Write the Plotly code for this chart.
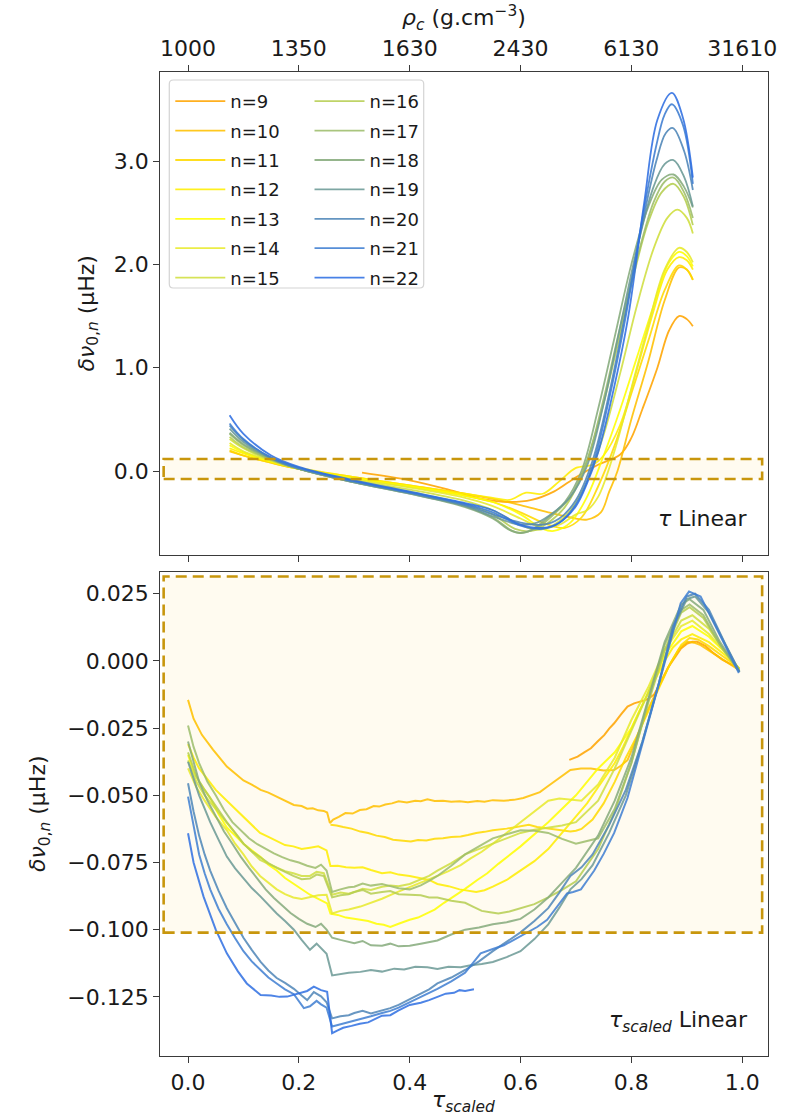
import plotly.graph_objects as go

# ---------------------------------------------------------------------------
# Radial orders and their line colours
# ---------------------------------------------------------------------------
ORDERS = [9, 10, 11, 12, 13, 14, 15, 16, 17, 18, 19, 20, 21, 22]
COLORS = ["#ffa500", "#ffc000", "#ffda00", "#ffee00", "#ffff00", "#e8ea2c",
          "#d0df40", "#b6ce52", "#9dbd6c", "#86ab7c", "#6c9a96", "#4f86b8",
          "#3f7ed2", "#2f6fe2"]

# Top axis: central density at evenly spaced tau positions
RHO_TICK_POS = [0.0, 0.2, 0.4, 0.6, 0.8, 1.0]
RHO_TICK_TEXT = ["1000", "1350", "1630", "2430", "6130", "31610"]

# ---------------------------------------------------------------------------
# Upper panel: delta nu_{0,n} (muHz) against tau (linear), (tau, dnu) pairs
# ---------------------------------------------------------------------------
top_n9 = [(0.314, -0.016), (0.40, -0.09), (0.47, -0.18), (0.53, -0.27), (0.58, -0.30),
          (0.62, -0.28), (0.66, -0.20), (0.70, -0.06), (0.74, 0.06), (0.78, 0.16),
          (0.80, 0.32), (0.82, 0.60), (0.847, 1.00), (0.868, 1.36), (0.886, 1.50),
          (0.90, 1.47), (0.911, 1.40)]
top_n10 = [(0.075, 0.19), (0.10, 0.15), (0.15, 0.08), (0.20, 0.02), (0.30, -0.06),
           (0.40, -0.14), (0.50, -0.22), (0.55, -0.27), (0.60, -0.33), (0.65, -0.40),
           (0.70, -0.46), (0.72, -0.47), (0.745, -0.40), (0.76, -0.20), (0.775, 0.0),
           (0.80, 0.50), (0.83, 1.05), (0.86, 1.65), (0.886, 1.97), (0.90, 1.95),
           (0.911, 1.85)]
top_n11 = [(0.075, 0.20), (0.10, 0.15), (0.15, 0.08), (0.20, 0.02), (0.30, -0.07),
           (0.40, -0.15), (0.50, -0.24), (0.55, -0.30), (0.60, -0.40), (0.65, -0.52),
           (0.68, -0.55), (0.71, -0.45), (0.74, -0.15), (0.77, 0.25), (0.80, 0.75),
           (0.83, 1.25), (0.86, 1.75), (0.886, 1.99), (0.90, 1.95), (0.911, 1.85)]
top_n12 = [(0.075, 0.22), (0.10, 0.17), (0.15, 0.09), (0.20, 0.03), (0.30, -0.06),
           (0.40, -0.14), (0.50, -0.22), (0.55, -0.26), (0.58, -0.28), (0.61, -0.21),
           (0.64, -0.22), (0.67, -0.10), (0.70, 0.03), (0.73, 0.06), (0.75, 0.15),
           (0.78, 0.45), (0.81, 0.98), (0.84, 1.55), (0.865, 1.95), (0.886, 2.07),
           (0.90, 2.04), (0.911, 1.95)]
top_n13 = [(0.075, 0.25), (0.10, 0.18), (0.15, 0.09), (0.20, 0.02), (0.30, -0.07),
           (0.40, -0.15), (0.50, -0.24), (0.55, -0.30), (0.60, -0.42), (0.64, -0.56),
           (0.66, -0.58), (0.69, -0.50), (0.72, -0.25), (0.75, 0.15), (0.78, 0.60),
           (0.81, 1.10), (0.84, 1.60), (0.866, 2.00), (0.886, 2.12), (0.90, 2.08),
           (0.911, 1.98)]
top_n14 = [(0.075, 0.27), (0.10, 0.19), (0.15, 0.10), (0.20, 0.02), (0.30, -0.08),
           (0.40, -0.16), (0.50, -0.26), (0.55, -0.34), (0.60, -0.46), (0.64, -0.55),
           (0.67, -0.52), (0.70, -0.42), (0.72, -0.38), (0.74, -0.25), (0.77, 0.20),
           (0.80, 0.80), (0.83, 1.40), (0.86, 1.95), (0.886, 2.16), (0.90, 2.12),
           (0.911, 2.02)]
top_n15 = [(0.075, 0.31), (0.10, 0.22), (0.15, 0.10), (0.20, 0.02), (0.30, -0.09),
           (0.40, -0.18), (0.50, -0.29), (0.55, -0.38), (0.60, -0.52), (0.63, -0.57),
           (0.66, -0.52), (0.69, -0.38), (0.72, -0.10), (0.75, 0.35), (0.78, 0.95),
           (0.81, 1.60), (0.84, 2.15), (0.865, 2.45), (0.883, 2.53), (0.90, 2.45),
           (0.911, 2.30)]
top_n16 = [(0.075, 0.33), (0.10, 0.23), (0.15, 0.11), (0.20, 0.02), (0.30, -0.10),
           (0.40, -0.20), (0.50, -0.32), (0.55, -0.42), (0.59, -0.56), (0.62, -0.58),
           (0.65, -0.50), (0.68, -0.35), (0.71, -0.05), (0.74, 0.45), (0.77, 1.10),
           (0.80, 1.80), (0.83, 2.40), (0.855, 2.70), (0.876, 2.78), (0.895, 2.65),
           (0.911, 2.38)]
top_n17 = [(0.075, 0.36), (0.10, 0.25), (0.15, 0.11), (0.20, 0.02), (0.30, -0.11),
           (0.40, -0.21), (0.50, -0.34), (0.55, -0.45), (0.585, -0.58), (0.60, -0.60),
           (0.63, -0.55), (0.66, -0.42), (0.69, -0.25), (0.72, 0.10), (0.75, 0.70),
           (0.78, 1.40), (0.81, 2.05), (0.84, 2.60), (0.86, 2.80), (0.876, 2.84),
           (0.895, 2.70), (0.911, 2.45)]
top_n18 = [(0.075, 0.37), (0.10, 0.26), (0.15, 0.12), (0.20, 0.02), (0.30, -0.11),
           (0.40, -0.22), (0.50, -0.35), (0.55, -0.46), (0.58, -0.57), (0.60, -0.60),
           (0.62, -0.57), (0.65, -0.45), (0.68, -0.30), (0.71, 0.00), (0.74, 0.60),
           (0.77, 1.30), (0.80, 2.00), (0.83, 2.55), (0.855, 2.82), (0.876, 2.87),
           (0.895, 2.75), (0.911, 2.55)]
top_n19 = [(0.075, 0.41), (0.10, 0.28), (0.15, 0.12), (0.20, 0.02), (0.30, -0.11),
           (0.40, -0.22), (0.50, -0.34), (0.55, -0.44), (0.60, -0.52), (0.63, -0.50),
           (0.66, -0.40), (0.69, -0.25), (0.72, 0.05), (0.75, 0.65), (0.78, 1.40),
           (0.81, 2.15), (0.84, 2.75), (0.86, 2.97), (0.876, 3.01), (0.895, 2.85),
           (0.911, 2.56)]
top_n20 = [(0.075, 0.44), (0.10, 0.30), (0.15, 0.13), (0.20, 0.03), (0.30, -0.10),
           (0.40, -0.21), (0.50, -0.33), (0.55, -0.42), (0.60, -0.50), (0.64, -0.52),
           (0.67, -0.46), (0.70, -0.28), (0.73, 0.10), (0.76, 0.75), (0.79, 1.55),
           (0.82, 2.40), (0.845, 3.00), (0.862, 3.27), (0.875, 3.32), (0.895, 3.10),
           (0.911, 2.72)]
top_n21 = [(0.075, 0.46), (0.10, 0.31), (0.15, 0.13), (0.20, 0.03), (0.30, -0.10),
           (0.40, -0.21), (0.50, -0.32), (0.55, -0.40), (0.60, -0.53), (0.64, -0.56),
           (0.67, -0.50), (0.70, -0.32), (0.73, 0.05), (0.76, 0.70), (0.79, 1.50),
           (0.82, 2.45), (0.845, 3.15), (0.86, 3.45), (0.873, 3.55), (0.893, 3.35),
           (0.911, 2.78)]
top_n22 = [(0.075, 0.54), (0.10, 0.36), (0.15, 0.15), (0.20, 0.04), (0.30, -0.09),
           (0.40, -0.20), (0.50, -0.31), (0.55, -0.38), (0.60, -0.52), (0.64, -0.55),
           (0.67, -0.50), (0.70, -0.34), (0.72, -0.12), (0.74, 0.18), (0.76, 0.60),
           (0.793, 1.45), (0.823, 2.59), (0.847, 3.40), (0.873, 3.66), (0.893, 3.42),
           (0.911, 2.84)]

# ---------------------------------------------------------------------------
# Lower panel: delta nu_{0,n} (muHz) against scaled tau, (tau_s, dnu) pairs
# ---------------------------------------------------------------------------
bot_n9 = [(0.688, -0.0368), (0.697, -0.0362), (0.703, -0.0356), (0.715, -0.0340),
          (0.727, -0.0325), (0.739, -0.0300), (0.751, -0.0276), (0.760, -0.0252),
          (0.769, -0.0232), (0.781, -0.0200), (0.793, -0.0170), (0.805, -0.0158),
          (0.817, -0.0151), (0.829, -0.0143), (0.841, -0.0125), (0.856, -0.0070),
          (0.866, -0.0025), (0.877, 0.0010), (0.889, 0.0045), (0.901, 0.0065),
          (0.910, 0.0071), (0.919, 0.0071), (0.934, 0.0055), (0.949, 0.0028),
          (0.964, 0.0005), (0.979, -0.0012), (0.994, -0.0027)]
bot_n10 = [(0.0, -0.0145), (0.01, -0.0215), (0.025, -0.0275), (0.045, -0.0330),
           (0.070, -0.0393), (0.085, -0.0418), (0.10, -0.0445), (0.115, -0.0460),
           (0.131, -0.0480), (0.145, -0.0490), (0.16, -0.0505), (0.175, -0.0518),
           (0.191, -0.0536), (0.205, -0.0540), (0.215, -0.0550), (0.225, -0.0548),
           (0.235, -0.0556), (0.245, -0.0558), (0.251, -0.0564), (0.256, -0.0603),
           (0.262, -0.0590), (0.272, -0.0580), (0.284, -0.0566), (0.297, -0.0568),
           (0.31, -0.0555), (0.322, -0.0552), (0.335, -0.0540), (0.345, -0.0542),
           (0.356, -0.0534), (0.368, -0.0530), (0.38, -0.0522), (0.395, -0.0527),
           (0.41, -0.0520), (0.42, -0.0522), (0.432, -0.0515), (0.445, -0.0521),
           (0.46, -0.0520), (0.475, -0.0524), (0.49, -0.0522), (0.505, -0.0526),
           (0.522, -0.0521), (0.535, -0.0524), (0.55, -0.0518), (0.57, -0.0520),
           (0.588, -0.0517), (0.605, -0.0510), (0.62, -0.0500), (0.635, -0.0488),
           (0.648, -0.0468), (0.670, -0.0435), (0.690, -0.0406), (0.709, -0.0400),
           (0.727, -0.0400), (0.750, -0.0408), (0.769, -0.0406), (0.781, -0.0390),
           (0.793, -0.0369), (0.805, -0.0310), (0.817, -0.0245), (0.829, -0.0185),
           (0.841, -0.0133), (0.856, -0.0065), (0.871, -0.0008), (0.886, 0.0045),
           (0.901, 0.0071), (0.913, 0.0068), (0.925, 0.0059), (0.943, 0.0035),
           (0.961, 0.0010), (0.978, -0.0012), (0.994, -0.0033)]
bot_n11 = [(0.257, -0.0610), (0.268, -0.0612), (0.28, -0.0618), (0.295, -0.0624),
           (0.311, -0.0635), (0.325, -0.0640), (0.34, -0.0650), (0.355, -0.0655),
           (0.37, -0.0665), (0.385, -0.0668), (0.402, -0.0672), (0.415, -0.0666),
           (0.43, -0.0668), (0.445, -0.0662), (0.46, -0.0660), (0.475, -0.0655),
           (0.492, -0.0653), (0.505, -0.0648), (0.52, -0.0640), (0.535, -0.0636),
           (0.55, -0.0630), (0.575, -0.0624), (0.60, -0.0616), (0.615, -0.0610),
           (0.63, -0.0618), (0.645, -0.0622), (0.66, -0.0625), (0.675, -0.0630),
           (0.69, -0.0635), (0.70, -0.0632), (0.71, -0.0625), (0.73, -0.0590),
           (0.75, -0.0530), (0.77, -0.0450), (0.79, -0.0360), (0.81, -0.0280),
           (0.83, -0.0190), (0.85, -0.0100), (0.87, -0.0010), (0.89, 0.0060),
           (0.905, 0.0085), (0.92, 0.0080), (0.94, 0.0055), (0.96, 0.0025),
           (0.98, -0.0005), (0.994, -0.0030)]
bot_n12 = [(0.0, -0.031), (0.01, -0.036), (0.02, -0.040), (0.035, -0.044), (0.05, -0.048),
           (0.07, -0.052), (0.085, -0.055), (0.10, -0.058), (0.115, -0.061), (0.13, -0.064),
           (0.145, -0.0655), (0.16, -0.067), (0.175, -0.0685), (0.19, -0.069),
           (0.205, -0.0700), (0.22, -0.0695), (0.235, -0.0690), (0.25, -0.0705),
           (0.257, -0.0763), (0.27, -0.0762), (0.285, -0.0768), (0.30, -0.0770),
           (0.315, -0.0768), (0.33, -0.0778), (0.35, -0.0790), (0.365, -0.0786),
           (0.38, -0.0795), (0.40, -0.0800), (0.42, -0.0808), (0.435, -0.0815),
           (0.45, -0.0830), (0.47, -0.0838), (0.49, -0.0850), (0.505, -0.0855),
           (0.52, -0.0860), (0.535, -0.0853), (0.55, -0.0840), (0.575, -0.0815),
           (0.60, -0.0780), (0.625, -0.0745), (0.65, -0.0700), (0.675, -0.0640),
           (0.70, -0.0580), (0.72, -0.0530), (0.74, -0.0470), (0.755, -0.0425),
           (0.77, -0.0380), (0.785, -0.0320), (0.80, -0.0250), (0.815, -0.0185),
           (0.83, -0.0120), (0.845, -0.0060), (0.86, 0.0000), (0.875, 0.0050),
           (0.89, 0.0080), (0.91, 0.0100), (0.94, 0.0070), (0.97, 0.0020), (0.995, -0.0030)]
bot_n13 = [(0.0, -0.035), (0.01, -0.041), (0.02, -0.045), (0.03, -0.048), (0.04, -0.051),
           (0.055, -0.057), (0.07, -0.062), (0.085, -0.065), (0.10, -0.068), (0.115, -0.0705),
           (0.131, -0.073), (0.145, -0.0758), (0.16, -0.078), (0.175, -0.0808),
           (0.191, -0.083), (0.205, -0.0852), (0.22, -0.087), (0.235, -0.0885),
           (0.251, -0.0902), (0.257, -0.0940), (0.27, -0.0945), (0.285, -0.0955),
           (0.30, -0.0958), (0.311, -0.0963), (0.325, -0.0968), (0.34, -0.0978),
           (0.353, -0.0982), (0.365, -0.0990), (0.38, -0.0978), (0.40, -0.0963),
           (0.415, -0.0955), (0.43, -0.0940), (0.445, -0.0925), (0.462, -0.0900),
           (0.48, -0.0876), (0.50, -0.0848), (0.522, -0.0815), (0.54, -0.0790),
           (0.56, -0.0755), (0.58, -0.0722), (0.60, -0.0690), (0.65, -0.0600),
           (0.70, -0.0500), (0.74, -0.0400), (0.77, -0.0340), (0.80, -0.0250),
           (0.83, -0.0120), (0.86, 0.0020), (0.89, 0.0110), (0.91, 0.0130),
           (0.94, 0.0090), (0.97, 0.0030), (0.995, -0.0030)]
bot_n14 = [(0.0, -0.040), (0.015, -0.047), (0.03, -0.052), (0.05, -0.058), (0.07, -0.063),
           (0.085, -0.068), (0.10, -0.072), (0.115, -0.0765), (0.13, -0.080), (0.145, -0.0825),
           (0.16, -0.085), (0.175, -0.0868), (0.19, -0.088), (0.205, -0.0886), (0.22, -0.088),
           (0.235, -0.0872), (0.25, -0.087), (0.26, -0.094), (0.275, -0.0930),
           (0.29, -0.0925), (0.311, -0.0914), (0.33, -0.0900), (0.35, -0.0885),
           (0.372, -0.0865), (0.39, -0.0850), (0.41, -0.0835), (0.432, -0.0815),
           (0.45, -0.0800), (0.47, -0.0782), (0.492, -0.0760), (0.51, -0.0735),
           (0.53, -0.0710), (0.55, -0.0680), (0.575, -0.0640), (0.60, -0.0600),
           (0.625, -0.0560), (0.65, -0.0520), (0.67, -0.0512), (0.69, -0.0517),
           (0.71, -0.0520), (0.74, -0.0460), (0.77, -0.0360), (0.80, -0.0220),
           (0.83, -0.0100), (0.86, 0.0040), (0.89, 0.0130), (0.91, 0.0150),
           (0.94, 0.0100), (0.97, 0.0030), (0.995, -0.0030)]
bot_n15 = [(0.0, -0.037), (0.015, -0.045), (0.03, -0.050), (0.05, -0.055), (0.07, -0.060),
           (0.085, -0.064), (0.10, -0.068), (0.115, -0.0712), (0.13, -0.074), (0.145, -0.0755),
           (0.16, -0.077), (0.175, -0.0782), (0.19, -0.079), (0.205, -0.0800), (0.22, -0.080),
           (0.232, -0.0785), (0.245, -0.079), (0.26, -0.087), (0.275, -0.0862),
           (0.29, -0.0866), (0.30, -0.086), (0.315, -0.0848), (0.33, -0.0852), (0.35, -0.084),
           (0.365, -0.0836), (0.38, -0.0838), (0.40, -0.083), (0.42, -0.0812), (0.435, -0.0800),
           (0.45, -0.078), (0.475, -0.0752), (0.50, -0.072), (0.525, -0.0700), (0.55, -0.068),
           (0.575, -0.0660), (0.60, -0.064), (0.625, -0.0628), (0.65, -0.062), (0.675, -0.0612),
           (0.70, -0.060), (0.74, -0.052), (0.77, -0.040), (0.80, -0.026), (0.83, -0.012),
           (0.86, 0.004), (0.89, 0.015), (0.91, 0.017), (0.94, 0.012), (0.97, 0.003),
           (0.995, -0.003)]
bot_n16 = [(0.0, -0.034), (0.015, -0.043), (0.03, -0.048), (0.05, -0.054), (0.07, -0.060),
           (0.085, -0.064), (0.10, -0.068), (0.115, -0.0708), (0.13, -0.073), (0.145, -0.0752),
           (0.16, -0.077), (0.175, -0.0786), (0.19, -0.080), (0.205, -0.0812), (0.22, -0.081),
           (0.232, -0.0795), (0.245, -0.080), (0.26, -0.088), (0.275, -0.0872),
           (0.29, -0.0868), (0.30, -0.086), (0.315, -0.0852), (0.33, -0.0866), (0.35, -0.086),
           (0.365, -0.0856), (0.38, -0.0868), (0.40, -0.087), (0.42, -0.0872), (0.435, -0.0880),
           (0.45, -0.088), (0.475, -0.0892), (0.50, -0.090), (0.515, -0.0915), (0.53, -0.093),
           (0.545, -0.0935), (0.56, -0.094), (0.58, -0.0932), (0.60, -0.092), (0.625, -0.0905),
           (0.65, -0.088), (0.675, -0.0852), (0.70, -0.082), (0.74, -0.070), (0.77, -0.056),
           (0.80, -0.038), (0.83, -0.016), (0.86, 0.004), (0.89, 0.018), (0.905, 0.020),
           (0.93, 0.016), (0.96, 0.006), (0.995, -0.004)]
bot_n17 = [(0.0, -0.024), (0.01, -0.032), (0.02, -0.038), (0.035, -0.045), (0.05, -0.050),
           (0.065, -0.0555), (0.08, -0.060), (0.095, -0.0632), (0.11, -0.066), (0.125, -0.0682),
           (0.14, -0.070), (0.155, -0.0716), (0.17, -0.073), (0.185, -0.0742), (0.20, -0.075),
           (0.215, -0.0762), (0.23, -0.077), (0.24, -0.0758), (0.25, -0.078), (0.26, -0.086),
           (0.275, -0.0850), (0.29, -0.0842), (0.30, -0.084), (0.315, -0.0828),
           (0.33, -0.0836), (0.35, -0.083), (0.365, -0.0838), (0.38, -0.0846), (0.40, -0.085),
           (0.42, -0.0835), (0.435, -0.0818), (0.45, -0.080), (0.475, -0.0762), (0.50, -0.072),
           (0.525, -0.0690), (0.55, -0.066), (0.575, -0.0645), (0.60, -0.063), (0.625, -0.0632),
           (0.65, -0.064), (0.675, -0.0662), (0.70, -0.068), (0.74, -0.066), (0.77, -0.055),
           (0.80, -0.038), (0.83, -0.015), (0.86, 0.006), (0.89, 0.019), (0.905, 0.021),
           (0.93, 0.017), (0.96, 0.006), (0.995, -0.004)]
bot_n18 = [(0.0, -0.030), (0.01, -0.038), (0.02, -0.045), (0.035, -0.052), (0.05, -0.058),
           (0.065, -0.0635), (0.08, -0.068), (0.095, -0.0728), (0.11, -0.077), (0.125, -0.0812),
           (0.14, -0.085), (0.155, -0.0882), (0.17, -0.091), (0.185, -0.0938), (0.20, -0.096),
           (0.215, -0.0978), (0.23, -0.099), (0.24, -0.0978), (0.25, -0.100), (0.26, -0.103),
           (0.275, -0.1038), (0.29, -0.1046), (0.30, -0.105), (0.315, -0.1042),
           (0.33, -0.1058), (0.35, -0.106), (0.365, -0.1052), (0.38, -0.1062), (0.40, -0.106),
           (0.42, -0.1052), (0.435, -0.1046), (0.45, -0.104), (0.475, -0.1018), (0.50, -0.100),
           (0.525, -0.0992), (0.55, -0.098), (0.575, -0.0972), (0.60, -0.096), (0.625, -0.0925),
           (0.65, -0.088), (0.675, -0.0825), (0.70, -0.077), (0.74, -0.065), (0.77, -0.052),
           (0.80, -0.036), (0.83, -0.014), (0.86, 0.007), (0.89, 0.021), (0.905, 0.023),
           (0.93, 0.019), (0.96, 0.007), (0.995, -0.004)]
bot_n19 = [(0.0, -0.0375), (0.01, -0.044), (0.02, -0.050), (0.03, -0.055), (0.04, -0.060),
           (0.055, -0.0665), (0.07, -0.0728), (0.085, -0.0772), (0.10, -0.081),
           (0.115, -0.0845), (0.131, -0.0877), (0.145, -0.0908), (0.16, -0.094),
           (0.175, -0.0968), (0.191, -0.100), (0.205, -0.1038), (0.22, -0.1075),
           (0.232, -0.1052), (0.24, -0.1068), (0.25, -0.109), (0.26, -0.117),
           (0.275, -0.1165), (0.29, -0.1160), (0.311, -0.1157), (0.33, -0.1150),
           (0.35, -0.1156), (0.372, -0.1145), (0.39, -0.1148), (0.41, -0.1138),
           (0.432, -0.114), (0.45, -0.1146), (0.47, -0.1138), (0.492, -0.114),
           (0.51, -0.1132), (0.53, -0.1128), (0.55, -0.112), (0.575, -0.1102), (0.60, -0.108),
           (0.625, -0.1035), (0.65, -0.098), (0.67, -0.0918), (0.69, -0.085), (0.71, -0.0812),
           (0.73, -0.076), (0.76, -0.064), (0.79, -0.050), (0.82, -0.030), (0.85, -0.008),
           (0.875, 0.012), (0.90, 0.023), (0.915, 0.024), (0.94, 0.018), (0.97, 0.006),
           (0.995, -0.004)]
bot_n20 = [(0.0, -0.0455), (0.01, -0.056), (0.02, -0.065), (0.03, -0.072), (0.04, -0.078),
           (0.055, -0.0855), (0.07, -0.092), (0.085, -0.0978), (0.10, -0.103),
           (0.115, -0.1075), (0.131, -0.112), (0.145, -0.1152), (0.16, -0.118),
           (0.175, -0.1198), (0.191, -0.122), (0.205, -0.1245), (0.215, -0.1262),
           (0.227, -0.1232), (0.24, -0.1248), (0.25, -0.127), (0.26, -0.133),
           (0.275, -0.1322), (0.29, -0.1318), (0.30, -0.131), (0.315, -0.1302),
           (0.33, -0.1312), (0.35, -0.130), (0.365, -0.1292), (0.38, -0.1280), (0.40, -0.126),
           (0.42, -0.1238), (0.435, -0.1222), (0.45, -0.120), (0.475, -0.1178), (0.50, -0.115),
           (0.525, -0.1118), (0.55, -0.108), (0.575, -0.1045), (0.60, -0.101), (0.625, -0.0968),
           (0.65, -0.092), (0.67, -0.0862), (0.69, -0.080), (0.71, -0.0768), (0.73, -0.072),
           (0.76, -0.061), (0.79, -0.048), (0.82, -0.030), (0.85, -0.008), (0.875, 0.013),
           (0.90, 0.024), (0.915, 0.025), (0.94, 0.019), (0.97, 0.006), (0.995, -0.004)]
bot_n21 = [(0.0, -0.0505), (0.01, -0.062), (0.02, -0.072), (0.03, -0.079), (0.04, -0.085),
           (0.055, -0.0922), (0.07, -0.098), (0.085, -0.1032), (0.10, -0.108),
           (0.115, -0.1118), (0.131, -0.115), (0.145, -0.1178), (0.16, -0.120),
           (0.175, -0.1222), (0.191, -0.124), (0.209, -0.1292), (0.22, -0.1285),
           (0.232, -0.1265), (0.24, -0.1278), (0.25, -0.129), (0.26, -0.136),
           (0.275, -0.1352), (0.29, -0.1346), (0.30, -0.134), (0.315, -0.1330),
           (0.33, -0.1322), (0.35, -0.131), (0.365, -0.1302), (0.38, -0.1290), (0.40, -0.127),
           (0.42, -0.1252), (0.435, -0.1236), (0.45, -0.122), (0.475, -0.1192), (0.50, -0.116),
           (0.515, -0.1122), (0.528, -0.1088), (0.55, -0.1072), (0.57, -0.1058),
           (0.588, -0.1038), (0.61, -0.1012), (0.63, -0.0990), (0.648, -0.0963),
           (0.665, -0.0918), (0.684, -0.0865), (0.695, -0.0860), (0.709, -0.085),
           (0.72, -0.0818), (0.733, -0.078), (0.75, -0.0718), (0.769, -0.064),
           (0.793, -0.051), (0.817, -0.0331), (0.841, -0.0157), (0.865, 0.003),
           (0.889, 0.0215), (0.904, 0.0258), (0.925, 0.024), (0.949, 0.014),
           (0.973, 0.0041), (0.994, -0.0045)]
bot_n22 = [(0.0, -0.0641), (0.01, -0.075), (0.028, -0.0877), (0.05, -0.100), (0.07, -0.1088),
           (0.09, -0.1155), (0.106, -0.1200), (0.12, -0.1225), (0.131, -0.1243),
           (0.15, -0.1245), (0.165, -0.1250), (0.179, -0.1249), (0.19, -0.1243),
           (0.203, -0.1236), (0.215, -0.1228), (0.227, -0.1212), (0.24, -0.1225),
           (0.251, -0.1231), (0.26, -0.1385), (0.27, -0.1375), (0.28, -0.1365),
           (0.295, -0.1358), (0.31, -0.1350), (0.325, -0.1345), (0.34, -0.1330),
           (0.35, -0.1320), (0.365, -0.1318), (0.38, -0.1300), (0.40, -0.1280),
           (0.42, -0.1272), (0.435, -0.1262), (0.45, -0.1250), (0.465, -0.1238),
           (0.48, -0.1235), (0.49, -0.1225), (0.50, -0.1228), (0.516, -0.1222)]

TOP_SERIES = [top_n9, top_n10, top_n11, top_n12, top_n13, top_n14, top_n15,
              top_n16, top_n17, top_n18, top_n19, top_n20, top_n21, top_n22]
BOT_SERIES = [bot_n9, bot_n10, bot_n11, bot_n12, bot_n13, bot_n14, bot_n15,
              bot_n16, bot_n17, bot_n18, bot_n19, bot_n20, bot_n21, bot_n22]

# ---------------------------------------------------------------------------
# Figure geometry (pixels)
# ---------------------------------------------------------------------------
W, H = 794, 1116
SX = 0.987            # horizontal scale of the rendered page
PX_L, PX_R = 160, 767
TOP_T, TOP_B = 71.7, 555
BOT_T, BOT_B = 571.7, 1056
FONT = "DejaVu Sans"
INK = "#1a1a1a"
FRAME = "#3a3a3a"
BOX_EDGE = "#c8960c"
BOX_FILL = "#fffbf0"


def fx(px):
    return px / SX / W


def fy(py):
    return 1 - py / H


fig = go.Figure()

for n, col, top_pts, bot_pts in zip(ORDERS, COLORS, TOP_SERIES, BOT_SERIES):
    first_col = n <= 15
    fig.add_trace(go.Scatter(
        x=[p[0] for p in top_pts], y=[p[1] for p in top_pts],
        mode="lines", line=dict(color=col, width=1.8, shape="spline", smoothing=1.0),
        opacity=0.88, name=f"n={n}", legendgroup=f"n{n}",
        legend="legend" if first_col else "legend2",
        xaxis="x", yaxis="y", showlegend=True))
    fig.add_trace(go.Scatter(
        x=[p[0] for p in bot_pts], y=[p[1] for p in bot_pts],
        mode="lines", line=dict(color=col, width=2.0),
        opacity=0.85, name=f"n={n}", legendgroup=f"n{n}",
        xaxis="x2", yaxis="y2", showlegend=False))

X_RANGE = [-0.0501, 1.0471]
axis_common = dict(showline=True, linecolor=FRAME, linewidth=1.3, ticks="outside",
                   ticklen=6, tickwidth=1.2, tickcolor=FRAME, showgrid=False,
                   zeroline=False, tickfont=dict(family=FONT, size=22, color=INK))

legend_common = dict(xanchor="left", yanchor="top", bgcolor="rgba(0,0,0,0)",
                     borderwidth=0, font=dict(family=FONT, size=18, color=INK),
                     traceorder="grouped", tracegroupgap=3, itemwidth=50)

fig.update_layout(
    width=W, height=H, autosize=False, margin=dict(l=0, r=0, t=0, b=0),
    paper_bgcolor="white", plot_bgcolor="white",
    xaxis=dict(domain=[fx(PX_L), fx(PX_R)], range=X_RANGE, anchor="y", side="top",
               tickvals=RHO_TICK_POS, ticktext=RHO_TICK_TEXT, mirror="ticks",
               **axis_common),
    yaxis=dict(domain=[fy(TOP_B), fy(TOP_T)], range=[-0.813, 3.865], anchor="x",
               tickvals=[0.0, 1.0, 2.0, 3.0], tickformat=".1f", mirror=True,
               **axis_common),
    xaxis2=dict(domain=[fx(PX_L), fx(PX_R)], range=X_RANGE, anchor="y2",
                tickvals=[0.0, 0.2, 0.4, 0.6, 0.8, 1.0], tickformat=".1f", mirror=True,
                **axis_common),
    yaxis2=dict(domain=[fy(BOT_B), fy(BOT_T)], range=[-0.147, 0.0332], anchor="x2",
                tickvals=[-0.125, -0.100, -0.075, -0.050, -0.025, 0.0, 0.025],
                tickformat=".3f", mirror=True, **axis_common),
    legend=dict(x=fx(170), y=fy(83), **legend_common),
    legend2=dict(x=fx(309), y=fy(83), **legend_common),
)

# Highlighted bands (fill underneath, dashed outline on top)
for xr, yr, band in (("x", "y", (-0.077, 0.116)), ("x2", "y2", (-0.1011, 0.0314))):
    fig.add_shape(type="rect", xref=xr, yref=yr, x0=-0.044, x1=1.036,
                  y0=band[0], y1=band[1], fillcolor=BOX_FILL, line=dict(width=0),
                  layer="below")
    fig.add_shape(type="rect", xref=xr, yref=yr, x0=-0.044, x1=1.036,
                  y0=band[0], y1=band[1], fillcolor="rgba(0,0,0,0)",
                  line=dict(color=BOX_EDGE, width=2.6, dash="11px,6px"), layer="above")

# Legend frame with rounded corners
lx0, lx1, ly0, ly1, r = 169, 423, 80, 288, 4
rx, ry = r / SX / W, r / H
path = (f"M {fx(lx0)+rx},{fy(ly0)} L {fx(lx1)-rx},{fy(ly0)} "
        f"Q {fx(lx1)},{fy(ly0)} {fx(lx1)},{fy(ly0)-ry} "
        f"L {fx(lx1)},{fy(ly1)+ry} Q {fx(lx1)},{fy(ly1)} {fx(lx1)-rx},{fy(ly1)} "
        f"L {fx(lx0)+rx},{fy(ly1)} Q {fx(lx0)},{fy(ly1)} {fx(lx0)},{fy(ly1)+ry} "
        f"L {fx(lx0)},{fy(ly0)-ry} Q {fx(lx0)},{fy(ly0)} {fx(lx0)+rx},{fy(ly0)} Z")
fig.add_shape(type="path", xref="paper", yref="paper", path=path,
              fillcolor="rgba(255,255,255,0.85)", line=dict(color="#d4d4d4", width=1.2),
              layer="above")

label_font = dict(family=FONT, size=22, color=INK)
annotations = [
    dict(text="<i>ρ<sub>c</sub></i> (g.cm<sup>−3</sup>)", x=fx(463), y=fy(18)),
    dict(text="<i>τ<sub>scaled</sub></i>", x=fx(463), y=fy(1101)),
    dict(text="<i>δν</i><sub>0,<i>n</i></sub> (μHz)", x=fx(88), y=fy((TOP_T + TOP_B) / 2),
         textangle=-90),
    dict(text="<i>δν</i><sub>0,<i>n</i></sub> (μHz)", x=fx(40), y=fy((BOT_T + BOT_B) / 2),
         textangle=-90),
    dict(text="<i>τ</i> Linear", x=fx(749), y=fy(518), xanchor="right"),
    dict(text="<i>τ<sub>scaled</sub></i> Linear", x=fx(749), y=fy(1021), xanchor="right"),
]
for a in annotations:
    a.setdefault("xanchor", "center")
    fig.add_annotation(xref="paper", yref="paper", showarrow=False, yanchor="middle",
                       font=label_font, **a)

fig.write_html("out.html", config={"responsive": False})
